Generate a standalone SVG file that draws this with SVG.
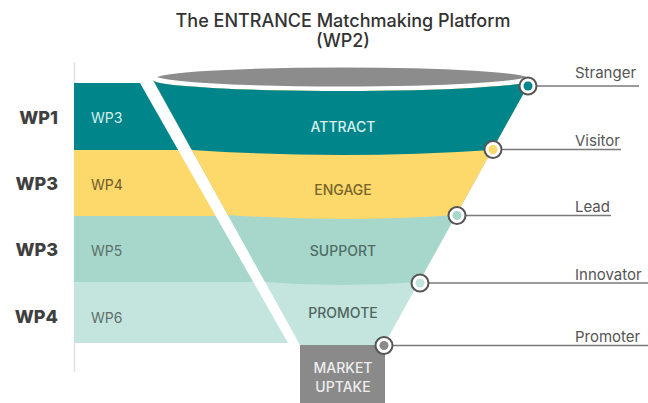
<svg xmlns="http://www.w3.org/2000/svg" width="648" height="403" viewBox="0 0 648 403">
  <style>
    .title { font-family: Inter, "Open Sans", sans-serif; font-size: 18px; font-weight: 500; fill: #333; text-anchor: middle; }
    .side { font-family: Inter, "Open Sans", sans-serif; font-size: 18px; font-weight: 800; fill: #3f3f3f; text-anchor: end; }
    .wp { font-family: Inter, "Open Sans", sans-serif; font-size: 14px; }
    .stage { font-family: Inter, "Open Sans", sans-serif; font-size: 14px; font-weight: 500; text-anchor: middle; }
    .role { font-family: Inter, "Open Sans", sans-serif; font-size: 15px; fill: #555; }
    .lead { stroke: #7a7a7a; stroke-width: 1.6; fill: none; }
    .ring { fill: #fff; stroke: #555; stroke-width: 2; }
  </style>
  <defs>
    <clipPath id="funnelClip">
      <path d="M153,80 A189 11 0 0 0 531,80 L384,345 L300,345 Z"/>
    </clipPath>
    <clipPath id="panelClip">
      <path d="M74,83 L140,83 L288,343 L74,343 Z"/>
    </clipPath>
  </defs>

  <rect width="648" height="403" fill="#fff"/>

  <!-- title -->
  <g id="title">
    <text class="title" x="343" y="27">The ENTRANCE Matchmaking Platform</text>
    <text class="title" x="343" y="47">(WP2)</text>
  </g>

  <!-- work-package panel on the left -->
  <g id="panel">
    <line x1="74.5" y1="62" x2="74.5" y2="372" stroke="#e2e2e2" stroke-width="1.5"/>
    <g clip-path="url(#panelClip)">
      <rect x="70" y="80" width="240" height="70" fill="#00868a"/>
      <rect x="70" y="150" width="240" height="66" fill="#fdd86b"/>
      <rect x="70" y="216" width="240" height="66" fill="#a7d7cb"/>
      <rect x="70" y="282" width="240" height="65" fill="#c4e5dd"/>
    </g>
    <text class="wp" x="91" y="123" fill="#d6eeee">WP3</text>
    <text class="wp" x="91" y="190" fill="#6e5e2b">WP4</text>
    <text class="wp" x="91" y="256" fill="#5d706c">WP5</text>
    <text class="wp" x="91" y="323" fill="#5d706c">WP6</text>
  </g>

  <g id="side-labels">
    <text class="side" x="58" y="124">WP1</text>
    <text class="side" x="58" y="190">WP3</text>
    <text class="side" x="58" y="256">WP3</text>
    <text class="side" x="58" y="323">WP4</text>
  </g>

  <!-- funnel bands -->
  <g id="funnel" clip-path="url(#funnelClip)">
    <rect x="140" y="60" width="410" height="290" fill="#c4e5dd"/>
    <path d="M100,60 H600 V282 H419 Q342,288 265,282 H100 Z" fill="#a7d7cb"/>
    <path d="M100,60 H600 V215 H456 Q342,223 228,215 H100 Z" fill="#fdd86b"/>
    <path d="M100,60 H600 V150 H492 Q342,160 192,150 H100 Z" fill="#00868a"/>
  </g>
  <ellipse id="rim" cx="342" cy="77" rx="187" ry="11" fill="#8c8c8c" stroke="#fff" stroke-width="3"/>

  <g id="attract"><text class="stage" x="343" y="132" fill="#d8eeee">ATTRACT</text></g>
  <g id="engage"><text class="stage" x="343" y="195" fill="#76642a">ENGAGE</text></g>
  <g id="support"><text class="stage" x="343" y="256" fill="#4f6d66">SUPPORT</text></g>
  <g id="promote"><text class="stage" x="343" y="318" fill="#4f6763">PROMOTE</text></g>

  <g id="market-uptake">
    <rect x="300" y="345" width="85" height="58" fill="#8a8a8a"/>
    <text class="stage" x="343" y="373" fill="#eeeeee">MARKET</text>
    <text class="stage" x="343" y="392" fill="#eeeeee">UPTAKE</text>
  </g>

  <!-- leader lines to the audience labels -->
  <g id="connectors">
    <line class="lead" x1="528" y1="86" x2="639" y2="86"/>
    <line class="lead" x1="493" y1="149.5" x2="621" y2="149.5"/>
    <line class="lead" x1="457" y1="215.5" x2="611" y2="215.5"/>
    <line class="lead" x1="420" y1="283" x2="648" y2="283"/>
    <line class="lead" x1="384" y1="345.5" x2="648" y2="345.5"/>
  </g>

  <g id="stranger">
    <circle class="ring" cx="528" cy="86" r="8.5"/>
    <circle cx="528" cy="86" r="4.5" fill="#00868a"/>
    <text class="role" x="575" y="78">Stranger</text>
  </g>
  <g id="visitor">
    <circle class="ring" cx="493" cy="149.5" r="8.5"/>
    <circle cx="493" cy="149.5" r="4.5" fill="#fdd86b"/>
    <text class="role" x="575" y="146">Visitor</text>
  </g>
  <g id="lead">
    <circle class="ring" cx="457" cy="215.5" r="8.5"/>
    <circle cx="457" cy="215.5" r="4.5" fill="#a7d7cb"/>
    <text class="role" x="575" y="212">Lead</text>
  </g>
  <g id="innovator">
    <circle class="ring" cx="420" cy="283" r="8.5"/>
    <circle cx="420" cy="283" r="4.5" fill="#c4e5dd"/>
    <text class="role" x="575" y="280">Innovator</text>
  </g>
  <g id="promoter">
    <circle class="ring" cx="384" cy="345.5" r="8.5"/>
    <circle cx="384" cy="345.5" r="4.5" fill="#8a8a8a"/>
    <text class="role" x="575" y="342">Promoter</text>
  </g>
</svg>
